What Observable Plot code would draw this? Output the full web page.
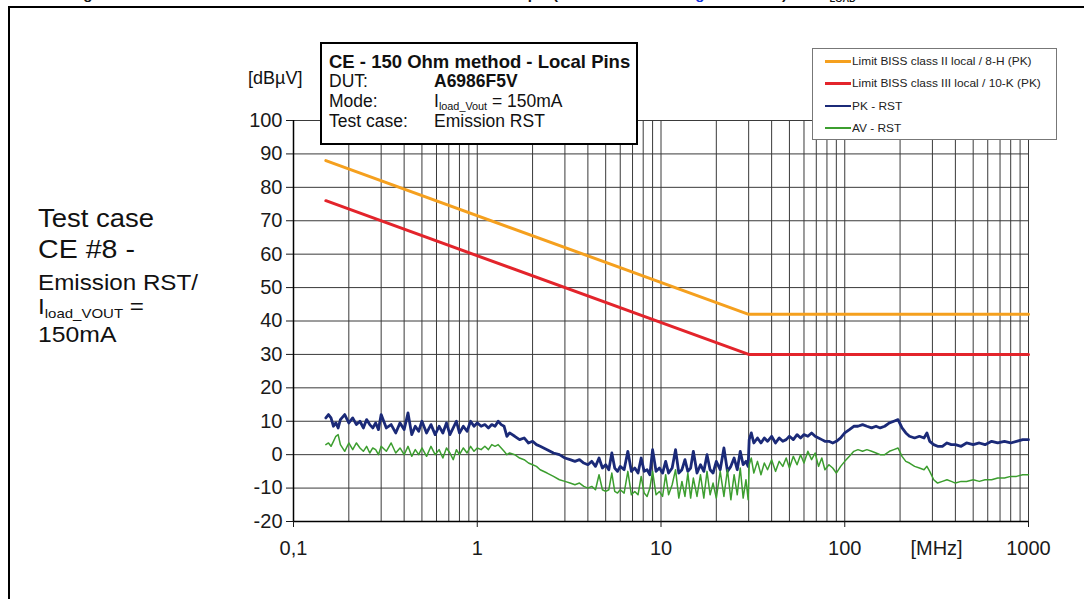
<!DOCTYPE html>
<html><head><meta charset="utf-8">
<script src="https://cdn.jsdelivr.net/npm/d3@7"></script>
<script src="https://cdn.jsdelivr.net/npm/@observablehq/plot@0.6"></script>
<style>
body{margin:0;background:#fff;font-family:"Liberation Sans",Arial,sans-serif;color:#111;}
#page{position:relative;width:1084px;height:599px;overflow:hidden;background:#fff;}
#page svg{position:absolute;left:0;top:0;}
.a{position:absolute;white-space:nowrap;line-height:1;}
.frame{position:absolute;left:8px;top:6px;width:1080px;height:600px;border-top:2px solid #000;border-left:2px solid #000;}
.info{position:absolute;left:320px;top:42px;width:318px;height:103px;box-sizing:border-box;border:2px solid #000;background:#fff;}
.legend{position:absolute;left:812px;top:48px;width:245px;height:92px;box-sizing:border-box;border:1px solid #777;background:#fff;}
.sw{position:absolute;left:825px;width:26px;}
sub{font-size:62%;vertical-align:-0.3em;line-height:0;}
</style></head><body><div id="page"></div>
<script>
// ---------- data ----------
const freqMHz = [
  0.15,0.155,0.16,0.165,0.17,0.175,0.18,0.19,0.2,0.21,
  0.22,0.23,0.24,0.25,0.26,0.27,0.28,0.29,0.3,0.32,
  0.34,0.36,0.38,0.4,0.42,0.44,0.46,0.48,0.5,0.53,
  0.56,0.59,0.62,0.65,0.68,0.71,0.74,0.77,0.8,0.84,
  0.88,0.92,0.96,1.0,1.05,1.1,1.15,1.2,1.25,1.3,
  1.35,1.4,1.45,1.5,
  1.6,1.7,1.8,1.9,2.0,2.1,2.2,2.4,2.6,2.8,
  3.0,3.2,3.4,3.6,3.8,4.0,4.2,4.4,4.6,4.8,
  5.0,5.2,5.4,5.6,5.8,6.0,6.3,6.6,6.9,7.2,
  7.5,7.8,8.1,8.4,8.7,9.0,9.4,9.8,10.2,10.6,
  11,11.5,12,12.5,13,13.5,14,14.5,15,15.7,
  16.4,17.1,17.8,18.5,19.2,20,21,22,23,24,
  25,26,27,28,29,29.8,
  30.2,31,32,33.5,35,36.5,38,40,42,44,
  46,48,50,52.5,55,57.5,60,63,66,69,
  72,75,78,82,86,90,95,100,106,112,
  118,125,132,140,148,156,165,175,185,195,
  205,215,225,240,255,270,280,290,305,320,
  340,360,380,400,430,460,500,540,580,630,
  680,740,800,860,930,1000
];
const pkRST = [
  11,12,11,8.5,9.5,8,10.5,12,9.5,11,
  9,10,8,10.5,9,8,9.5,7.5,12,8,
  9,6.5,9.5,7.5,12.5,6,8.5,7,10,6.5,
  9,6,8.5,6.5,9.5,6,8,10,6.5,8.5,
  7,10,8.5,9.5,8.5,9,8,9,8.5,10,
  9,8.5,5.5,6.5,
  5.5,4.5,5,3.5,4,3,2.5,1.5,0.5,0,
  -1,-1.5,-2,-1.5,-2.5,-3,-2,-3.5,-1,-4,
  -3,-4.5,0.5,-4,-5,-3.5,-4.5,1,-5,-4,
  -5.5,-1,-5,-4.5,-6,1.5,-5,-4,-5.5,-2,
  -5.5,-4,1.5,-5.5,-4.5,-1.5,-5,-4,1,-5.5,
  -3,-5,0,-4.5,-5.5,-2,-4.5,2,-5,-3.5,
  -1,-4.5,1,-3,-2,-3.5,
  4.5,6.5,3.5,5,3.5,5,4,5.5,3.5,5,
  4,4.5,5.5,4.5,6,5,6,5.5,6.5,5.5,
  5,4.5,4,4,3.5,4,5,6.5,7.5,8.5,
  8.5,9,8.5,8,8.5,8,8.5,9.5,10,10.5,
  8,6.5,5.5,5,5.5,5,6.5,4,3,2.5,
  2.5,3.5,3,3,2.5,3.5,3,3.5,3,4,
  3.5,4,3.5,4,4.5,4.5
];
const avRST = [
  3,3.5,2.5,4,5.5,6,3,1,3.5,1.5,
  3.5,2,1,2.5,0.5,2,1.5,0,2.5,1,
  3.5,0.5,2,0,2.5,-0.5,1.5,0,2,-0.5,
  2.5,0,1.5,-1,2,0.5,-1.5,1.5,0,2,
  0.5,2.5,1,2,1.5,2.5,1.5,3,2.5,3,
  2,1,0,0.5,
  0,-1,-1.5,-2.5,-3,-3.5,-4.5,-5.5,-6.5,-7.5,
  -8,-8.5,-9,-8.5,-9.5,-10,-9.5,-10.5,-6,-10.5,
  -11,-10.5,-5.5,-11,-11.5,-10.5,-11.5,-5,-12,-11,
  -12,-6.5,-11.5,-12.5,-10,-5,-12,-11,-12.5,-6,
  -12,-9,-4.5,-13,-8,-12.5,-5.5,-13,-7,-12.5,
  -6,-13,-5,-12,-8.5,-13,-5,-12.5,-4.5,-13.5,
  -6,-12,-4,-13,-7.5,-13.5,
  -3,-1,-5.5,-2,-6,-2.5,-4.5,-1.5,-5,-2,
  -3.5,-1,-4,-0.5,-3,0,-2.5,1,-1.5,0.5,
  -3.5,-1,-4.5,-3,-4,-5.5,-3.5,-2,-0.5,1,
  1.5,1,1.5,1,0.5,0,0,1,1.5,2,
  -0.5,-2,-2.5,-3.5,-4,-4.5,-3.5,-5,-7.5,-8.5,
  -8,-7.5,-8,-8.5,-8,-8,-7.5,-8,-7.5,-7.5,
  -7,-7,-6.5,-6.5,-6,-6
];
const limitFreq = [0.15, 30, 1000];
const limitClassII = [88, 42, 42];
const limitClassIII = [76, 30, 30];
const yTicks = [-20,-10,0,10,20,30,40,50,60,70,80,90,100];
const xTickValues = [0.1, 1, 10, 100, 1000];
const xTickLabels = ["0,1", "1", "10", "100", "1000"];
const xGrid = [0.1,0.2,0.3,0.4,0.5,0.6,0.7,0.8,0.9,1,2,3,4,5,6,7,8,9,10,20,30,40,50,60,70,80,90,100,200,300,400,500,600,700,800,900,1000];
const xUnitLabel = "[MHz]";
const xUnitAt = 316;
const seriesNames = ["Limit BISS class II local / 8-H (PK)", "Limit BISS class III local / 10-K (PK)", "PK - RST", "AV - RST"];

// ---------- chart ----------
const colors = ["#F5A01E", "#E3242B", "#1B2A78", "#3C9E2F"];
const meas = freqMHz.map((f, i) => ({f, pk: pkRST[i], av: avRST[i]}));
const lim2 = limitFreq.map((f, i) => ({f, v: limitClassII[i]}));
const lim3 = limitFreq.map((f, i) => ({f, v: limitClassIII[i]}));
const labelMap = new Map(xTickValues.map((v, i) => [v, xTickLabels[i]]));

const chart = Plot.plot({
  width: 1084, height: 599,
  marginLeft: 293, marginRight: 56, marginTop: 120, marginBottom: 78,
  style: {fontFamily: "'Liberation Sans', Arial, sans-serif", fontSize: "20px", color: "#1a1a1a", background: "transparent"},
  x: {type: "log", domain: [0.1, 1000]},
  y: {domain: [-20, 100]},
  marks: [
    Plot.ruleX(xGrid, {stroke: "#3a3a3a", strokeWidth: 1}),
    Plot.ruleY(yTicks, {stroke: "#3a3a3a", strokeWidth: 1}),
    Plot.ruleX([0.1], {stroke: "#000", strokeWidth: 1.5}),
    Plot.ruleY([-20], {stroke: "#000", strokeWidth: 1.5}),
    Plot.axisY(yTicks, {tickSize: 7, tickPadding: 4, label: null, fontSize: 20, tickFormat: d => String(d)}),
    Plot.axisX(xTickValues, {tickSize: 6, tickPadding: 13, label: null, fontSize: 20, tickFormat: d => labelMap.get(d)}),
    Plot.text([xUnitLabel], {x: () => xUnitAt, frameAnchor: "bottom", lineAnchor: "middle", dy: 27, fontSize: 20, text: d => d}),
    Plot.line(lim2, {x: "f", y: "v", stroke: colors[0], strokeWidth: 3}),
    Plot.line(lim3, {x: "f", y: "v", stroke: colors[1], strokeWidth: 3}),
    Plot.line(meas, {x: "f", y: "pk", stroke: colors[2], strokeWidth: 2.8, strokeLinejoin: "round"}),
    Plot.line(meas, {x: "f", y: "av", stroke: colors[3], strokeWidth: 1.5, strokeLinejoin: "round"})
  ]
});
const page = document.getElementById("page");
page.appendChild(chart);

// ---------- overlays ----------
function add(html, cls, css) {
  const d = document.createElement("div");
  d.className = cls || "a";
  d.innerHTML = html;
  Object.assign(d.style, css || {});
  page.appendChild(d);
  return d;
}
// baseline helper: top = baseline - 0.8465*fontSize
function txt(html, left, baseline, size, extra) {
  return add(html, "a", Object.assign({left: left + "px", top: (baseline - 0.8465 * size) + "px", fontSize: size + "px"}, extra || {}));
}
add("", "frame");
// caption of the page, cut off at the top edge as in the reference
const cap = {fontWeight: "bold"};
txt("Figure 58. Conducted emission results", 70, -1, 15, cap);
txt("setup", 497, -1, 15, cap);
txt("(as shown in", 553, -1, 15, cap);
txt("Figure 16", 682, -1, 15, {fontWeight: "bold", color: "#1030e0"});
txt(") with I<sub>LOAD</sub>", 782, -1, 15, cap);

// left side description (slightly widened lettering as in the reference)
const wide = {transform: "scaleX(1.1)", transformOrigin: "0 0"};
txt("Test case", 38, 227, 25, wide);
txt("CE #8 -", 38, 258, 26, wide);
txt("Emission RST/", 38, 291, 22, wide);
txt("I<sub>load_VOUT</sub> =", 38, 315, 22, wide);
txt("150mA", 38, 343, 22.5, wide);

// y unit
txt("[dBµV]", 248, 84, 18);

// info box
add("", "info");
txt("CE - 150 Ohm method - Local Pins", 329, 69, 18.5, {fontWeight: "bold"});
txt("DUT:", 329, 88, 17.5);
txt("A6986F5V", 434, 88, 17.5, {fontWeight: "bold"});
txt("Mode:", 329, 108, 17.5);
txt("I<sub>load_Vout</sub> = 150mA", 434, 108, 17.5);
txt("Test case:", 329, 128, 17.5);
txt("Emission RST", 434, 128, 17.5);

// legend
add("", "legend");
const legendY = [61, 83, 106, 128];
const legendW = [3, 3, 2.6, 1.5];
seriesNames.forEach((name, i) => {
  add("", "sw", {top: (legendY[i] - legendW[i] / 2) + "px", height: legendW[i] + "px", background: colors[i]});
  txt(name, 852, legendY[i] + 4, 11, {color: "#222", transform: "scaleX(1.08)", transformOrigin: "0 0"});
});
</script></body></html>
